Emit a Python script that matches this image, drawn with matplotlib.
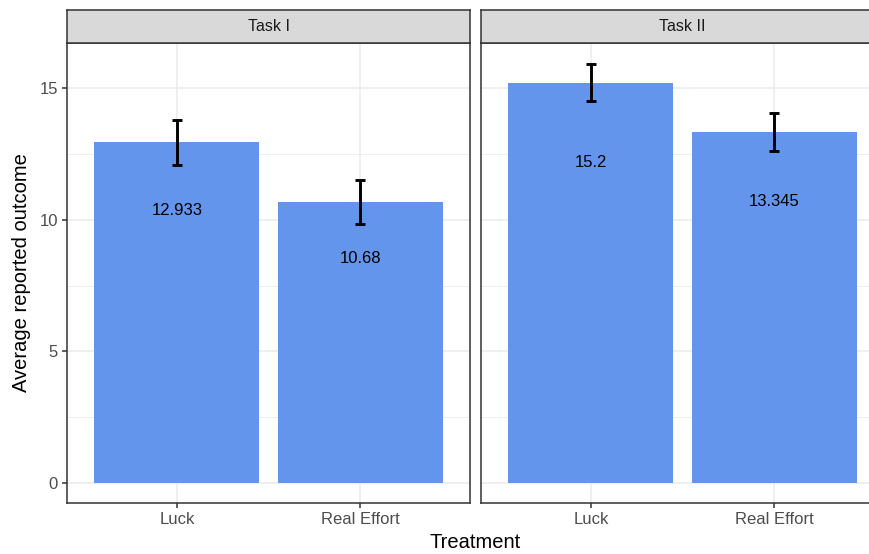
import numpy as np
import matplotlib.pyplot as plt

plt.rcParams['font.family'] = ['Liberation Sans', 'DejaVu Sans']

# data
tasks = ["Task I", "Task II"]
treatments = ["Luck", "Real Effort"]
means = {"Task I": [12.933, 10.68], "Task II": [15.2, 13.345]}
errors = {"Task I": [0.86, 0.84], "Task II": [0.70, 0.72]}
labels = {"Task I": ["12.933", "10.68"], "Task II": ["15.2", "13.345"]}

bar_col = "#6495ED"
frame_col = "#333333"
grid_col = "#EBEBEB"
tick_col = "#4D4D4D"

W, H = 870, 554
fig = plt.figure(figsize=(W / 100, H / 100), dpi=100)

panel_left = [67, 481]
panel_w = 403
panel_top, panel_bot = 43, 503
strip_top = 10

for k, task in enumerate(tasks):
    l = panel_left[k]
    ax = fig.add_axes([l / W, (H - panel_bot) / H, panel_w / W, (panel_bot - panel_top) / H])
    x = np.arange(1, len(treatments) + 1)
    ax.bar(x, means[task], width=0.9, color=bar_col, zorder=2)
    ax.errorbar(x, means[task], yerr=errors[task], fmt="none", ecolor="black",
                elinewidth=2.1, capsize=3.6, capthick=2.1, zorder=3)
    for xi, m, lab in zip(x, means[task], labels[task]):
        ax.text(xi, 0.8 * m, lab, ha="center", va="center", fontsize=12, color="black", zorder=4)

    ax.set_xlim(0.4, 2.6)
    ax.set_ylim(-0.76, 16.71)
    ax.set_xticks(x)
    ax.set_xticklabels(treatments)
    ax.set_yticks([0, 5, 10, 15])
    ax.set_yticks([2.5, 7.5, 12.5], minor=True)
    ax.grid(True, which="major", color=grid_col, linewidth=1.1, zorder=0)
    ax.grid(True, which="minor", axis="y", color=grid_col, linewidth=0.55, zorder=0)
    ax.set_axisbelow(True)
    for s in ax.spines.values():
        s.set_color(frame_col)
        s.set_linewidth(1.1)
    ax.tick_params(axis="both", which="major", length=3.5, width=1.1, color=frame_col,
                   labelcolor=tick_col, labelsize=12, pad=3)
    ax.tick_params(axis="y", which="minor", length=0)
    if k == 1:
        ax.tick_params(axis="y", which="major", left=False, labelleft=False)
        ax.spines["right"].set_visible(False)
    else:
        ax.set_ylabel("Average reported outcome", fontsize=14.5, color="black", labelpad=6)

    # facet strip
    sax = fig.add_axes([l / W, (H - panel_top) / H, panel_w / W, (panel_top - strip_top) / H])
    sax.set_xticks([])
    sax.set_yticks([])
    sax.set_facecolor("#D9D9D9")
    for s in sax.spines.values():
        s.set_color(frame_col)
        s.set_linewidth(1.1)
    if k == 1:
        sax.spines["right"].set_visible(False)
    sax.text(0.5, 0.5, task, ha="center", va="center", fontsize=11.5, color="#1A1A1A",
             transform=sax.transAxes)

fig.text(475 / W, (H - 543) / H, "Treatment", ha="center", va="center", fontsize=14.5, color="black")

fig.savefig("out.png", dpi=100)
